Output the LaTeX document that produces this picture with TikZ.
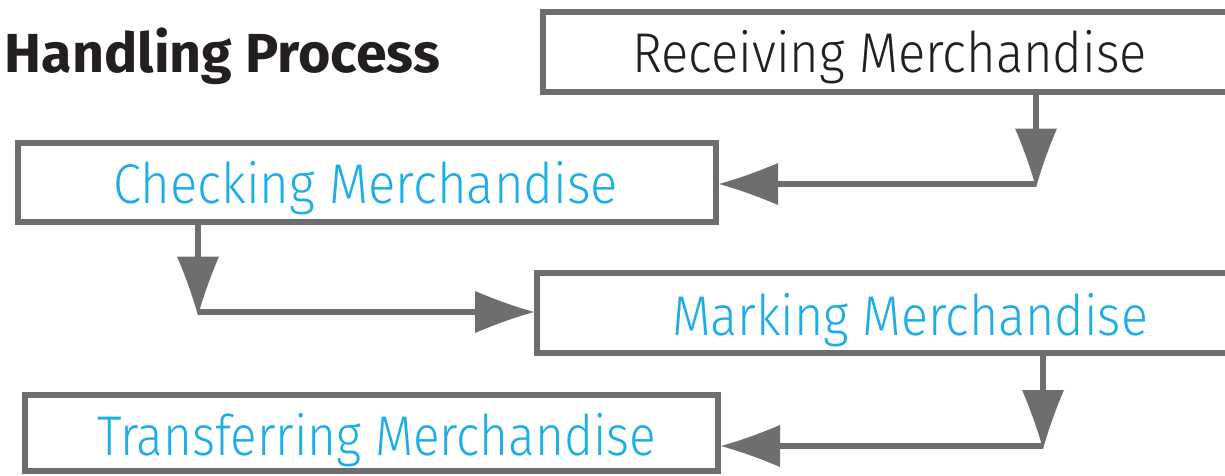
\documentclass[tikz,border=0pt]{standalone}
\usepackage{fontspec}
\usepackage{graphicx}
\setmainfont{Fira Sans}
\newfontfamily\lightf{Fira Sans Light}
\usetikzlibrary{arrows.meta}
\definecolor{linegray}{HTML}{6D6E70}
\definecolor{txtcyan}{HTML}{1CAEE4}
\definecolor{txtblack}{HTML}{231F20}
\pgfdeclarearrow{
  name = Flare,
  parameters = {\the\pgfarrowlength,\the\pgfarrowwidth},
  setup code = {
    \pgfarrowssettipend{0pt}
    \pgfarrowssetbackend{-\pgfarrowlength}
    \pgfarrowssetlineend{-.6\pgfarrowlength}
    \pgfarrowssavethe\pgfarrowlength
    \pgfarrowssavethe\pgfarrowwidth
  },
  drawing code = {
    \pgfpathmoveto{\pgfqpoint{0pt}{0pt}}
    \pgfpathcurveto{\pgfqpoint{-.33\pgfarrowlength}{.13\pgfarrowwidth}}{\pgfqpoint{-.67\pgfarrowlength}{.3\pgfarrowwidth}}{\pgfqpoint{-\pgfarrowlength}{.5\pgfarrowwidth}}
    \pgfpathlineto{\pgfqpoint{-\pgfarrowlength}{-.5\pgfarrowwidth}}
    \pgfpathcurveto{\pgfqpoint{-.67\pgfarrowlength}{-.3\pgfarrowwidth}}{\pgfqpoint{-.33\pgfarrowlength}{-.13\pgfarrowwidth}}{\pgfqpoint{0pt}{0pt}}
    \pgfpathclose
    \pgfusepathqfill
  },
  defaults = {length=59pt, width=42pt}
}
\newcommand{\fitw}[2]{\resizebox{#1}{\height}{#2}}
\tikzset{
  procbox/.style={draw=linegray, line width=6pt, rectangle, inner sep=0pt, fill=none},
  boxtext/.style={anchor=base west, inner sep=0pt, outer sep=0pt},
  link/.style={draw=linegray, line width=6pt},
  linkarrow/.style={link, -{Flare[length=59pt,width=42pt]}},
}
\begin{document}
\begin{tikzpicture}[x=1pt,y=-1pt]
\useasboundingbox (0,0) rectangle (1225,475);
\clip (0,0) rectangle (1225,475);
\fill[white] (0,0) rectangle (1225,475);
% boxes
\node[procbox, minimum width=717pt, minimum height=80pt] (rec) at (901.5,52) {};
\node[procbox, minimum width=698pt, minimum height=79pt] (chk) at (367,182.5) {};
\node[procbox, minimum width=723pt, minimum height=80pt] (mrk) at (898.5,313) {};
\node[procbox, minimum width=693pt, minimum height=76pt] (trf) at (371.5,433) {};
% texts
\node[boxtext, text=txtblack] (title) at (5,72) {\fitw{435pt}{\fontsize{55}{60}\selectfont\bfseries Handling Process}};
\node[boxtext, text=txtblack] (rect) at (632,72) {\fitw{515pt}{\fontsize{56}{60}\selectfont\lightf Receiving Merchandise}};
\node[boxtext, text=txtcyan] (chkt) at (113,203) {\fitw{505pt}{\fontsize{56}{60}\selectfont\lightf Checking Merchandise}};
\node[boxtext, text=txtcyan] (mrkt) at (672,335) {\fitw{476pt}{\fontsize{56}{60}\selectfont\lightf Marking Merchandise}};
\node[boxtext, text=txtcyan] (trft) at (97,455) {\fitw{559pt}{\fontsize{56}{60}\selectfont\lightf Transferring Merchandise}};
% connector corners
\coordinate (k1) at (1036,187.5);
\coordinate (h1) at (1036,184);
\coordinate (k2) at (198,315.5);
\coordinate (h2) at (198,312);
\coordinate (k3) at (1043,449);
\coordinate (h3) at (1043,446);
% connectors
\draw[linkarrow] (rec.south -| k1) -- (k1);
\draw[linkarrow] (h1) -- (chk.east |- h1);
\draw[linkarrow] (chk.south -| k2) -- (k2);
\draw[linkarrow] (h2) -- (mrk.west |- h2);
\draw[linkarrow] (mrk.south -| k3) -- (k3);
\draw[linkarrow] (h3) -- (trf.east |- h3);
\end{tikzpicture}
\end{document}
